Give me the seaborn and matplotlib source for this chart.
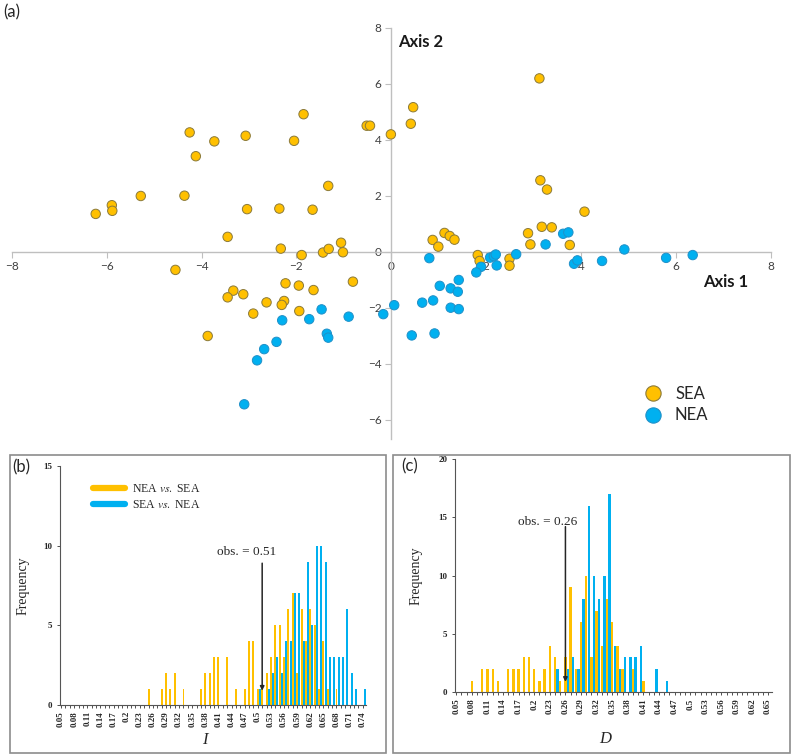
import numpy as np
import pandas as pd
import matplotlib
matplotlib.use("Agg")
import matplotlib.pyplot as plt
import seaborn as sns
from matplotlib.lines import Line2D
from matplotlib.patches import Rectangle

# (a) ordination scores
sea_x = [-4.25, -3.73, -3.07, -4.12, -5.28, -4.36, -5.89, -5.88, -6.23, -3.04,
         -3.45, -4.55, -3.33, -3.45, -3.12, -2.91, -1.85, -2.05, -0.52, -0.45,
         -0.01, 0.41, 0.46, -1.33, -2.36, -1.66, -2.33, -1.89, -1.44, -1.32,
         -1.06, -1.02, -0.81, -2.23, -1.95, -1.64, -2.63, -2.26, -2.31, -1.94,
         3.12, 3.14, 3.28, 4.07, 0.87, 0.99, 1.12, 1.23, 1.33, 2.88,
         3.17, 3.38, 2.93, 3.76, 1.82, 1.86, 2.49, 2.49, -3.87]
sea_y = [4.26, 3.94, 4.14, 3.41, 1.99, 2.00, 1.66, 1.46, 1.35, 1.52,
         0.53, -0.65, -1.39, -1.63, -1.52, -2.21, 4.91, 3.96, 4.50, 4.50,
         4.19, 4.57, 5.16, 2.35, 1.54, 1.50, 0.11, -0.12, -0.03, 0.10,
         0.32, -0.02, -1.07, -1.13, -1.21, -1.37, -1.81, -1.76, -1.90, -2.12,
         6.19, 2.55, 2.22, 1.43, 0.42, 0.18, 0.67, 0.56, 0.43, 0.66,
         0.89, 0.87, 0.26, 0.24, -0.12, -0.33, -0.25, -0.50, -3.01]
nea_x = [-1.47, -1.73, -0.90, -0.17, 0.06, 0.80, 1.89, 2.08, 2.16, 2.20,
         2.22, 2.63, 1.79, 3.25, 3.62, 3.73, 3.85, 3.92, 1.42, 1.02,
         1.25, 1.40, 0.65, 0.88, 1.25, 1.42, 0.43, 0.91, 4.44, 4.91,
         5.79, 6.35, -3.10, -2.83, -2.68, -2.42, -2.30, -1.36, -1.33]
nea_y = [-2.06, -2.41, -2.32, -2.23, -1.91, -0.23, -0.54, -0.21, -0.16, -0.10,
         -0.49, -0.09, -0.74, 0.26, 0.64, 0.69, -0.43, -0.31, -1.01, -1.22,
         -1.31, -1.43, -1.82, -1.74, -2.00, -2.05, -2.99, -2.92, -0.33, 0.08,
         -0.22, -0.12, -5.45, -3.88, -3.48, -3.22, -2.45, -2.93, -3.07]

# (b) niche identity I, (c) Schoener's D : null distributions
b_bins = [str(round(0.05 + 0.01 * i, 2)) for i in range(70)]
b_nea_sea = [0, 0, 0, 0, 0, 0, 0, 0, 0, 0,
             0, 0, 0, 0, 0, 0, 0, 0, 0, 0,
             1, 0, 0, 1, 2, 1, 2, 0, 1, 0,
             0, 0, 1, 2, 2, 3, 3, 0, 3, 0,
             1, 0, 1, 4, 4, 1, 1, 2, 3, 5,
             5, 3, 6, 7, 2, 6, 4, 6, 5, 1,
             4, 1, 0, 1, 0, 0, 0, 0, 0, 0]
b_sea_nea = [0, 0, 0, 0, 0, 0, 0, 0, 0, 0,
             0, 0, 0, 0, 0, 0, 0, 0, 0, 0,
             0, 0, 0, 0, 0, 0, 0, 0, 0, 0,
             0, 0, 0, 0, 0, 0, 0, 0, 0, 0,
             0, 0, 0, 0, 0, 1, 0, 1, 2, 3,
             2, 4, 4, 7, 7, 4, 9, 5, 10, 10,
             9, 3, 3, 3, 3, 6, 2, 1, 0, 1]
b_obs = "0.51"

c_bins = [str(round(0.05 + 0.01 * i, 2)) for i in range(61)]
c_nea_sea = [0, 0, 0, 1, 0, 2, 2, 2, 1, 0,
             2, 2, 2, 3, 3, 2, 1, 2, 4, 3,
             1, 3, 9, 2, 6, 10, 3, 7, 4, 8,
             6, 4, 2, 0, 2, 0, 1, 0, 0, 0,
             0, 0, 0, 0, 0, 0, 0, 0, 0, 0,
             0, 0, 0, 0, 0, 0, 0, 0, 0, 0,
             0]
c_sea_nea = [0, 0, 0, 0, 0, 0, 0, 0, 0, 0,
             0, 0, 0, 0, 0, 0, 0, 0, 0, 2,
             0, 2, 3, 2, 8, 16, 10, 8, 10, 17,
             4, 2, 3, 3, 3, 4, 0, 0, 2, 0,
             1, 0, 0, 0, 0, 0, 0, 0, 0, 0,
             0, 0, 0, 0, 0, 0, 0, 0, 0, 0,
             0]
c_obs = "0.26"

YEL = "#FFC000"
BLU = "#00B0F0"
W, H = 794, 755

sns.set_theme(style="white")
plt.rcParams["mathtext.fontset"] = "stix"

fig = plt.figure(figsize=(W / 100, H / 100), dpi=100)


def fx(px):
    return px / W


def fy(py):
    return 1 - py / H


# ---------------- (a) scatter ----------------
pts = pd.DataFrame({
    "Axis 1": sea_x + nea_x,
    "Axis 2": sea_y + nea_y,
    "group": ["SEA"] * len(sea_x) + ["NEA"] * len(nea_x),
})
edges = ["#8B7A3A"] * len(sea_x) + ["#2090C8"] * len(nea_x)

ax = fig.add_axes([fx(11.7), fy(439.3), fx(771) - fx(11.7), fy(27.7) - fy(439.3)])
sns.scatterplot(data=pts, x="Axis 1", y="Axis 2", hue="group",
                palette={"SEA": YEL, "NEA": BLU}, s=46, edgecolor=edges,
                linewidth=0.7, legend=False, ax=ax, zorder=3)
ax.set_xlim(-8, 8)
ax.set_ylim(-6.7, 8)
ax.set_facecolor("none")
for s in ["top", "right"]:
    ax.spines[s].set_visible(False)
ax.spines["left"].set_position(("data", 0))
ax.spines["bottom"].set_position(("data", 0))
for s in ["left", "bottom"]:
    ax.spines[s].set_color("#BFBFBF")
    ax.spines[s].set_linewidth(1.0)
ax.set_xticks(np.arange(-8, 9, 2))
ax.set_yticks(np.arange(-6, 9, 2))
ax.tick_params(axis="both", direction="out", length=4, width=0.8, color="#BFBFBF",
               labelcolor="#404040", labelsize=8.5, pad=3, bottom=True, left=True)
for t in ax.get_xticklabels() + ax.get_yticklabels():
    t.set_fontfamily("Lato")
ax.set_xlabel("")
ax.set_ylabel("")

fig.text(fx(398), fy(42), "Axis 2", fontsize=12, fontweight="bold",
         family="Lato", ha="left", va="center", color="#1a1a1a")
fig.text(fx(703), fy(282), "Axis 1", fontsize=12, fontweight="bold",
         family="Lato", ha="left", va="center", color="#1a1a1a")
fig.text(fx(3), fy(12), "(a)", fontsize=12, family="Lato", ha="left", va="center")

leg_h = [Line2D([], [], marker="o", ls="", markersize=11, markerfacecolor=YEL,
                markeredgecolor="#8B7A3A", markeredgewidth=0.8),
         Line2D([], [], marker="o", ls="", markersize=11, markerfacecolor=BLU,
                markeredgecolor="#2090C8", markeredgewidth=0.8)]
fig.legend(leg_h, ["SEA", "NEA"], loc="upper left", bbox_to_anchor=(fx(630), fy(379)),
           frameon=False, prop={"family": "Lato", "size": 12},
           handletextpad=0.3, labelspacing=0.35, borderaxespad=0)


# ---------------- (b), (c) histograms ----------------
def hist_panel(rect, bins, a, b, ymax, xlab, obs, text_xy, arrow_top, xlab_xy, ylab_x):
    df = pd.DataFrame({
        "bin": bins * 2,
        "count": a + b,
        "series": ["NEA vs. SEA"] * len(bins) + ["SEA vs. NEA"] * len(bins),
    })
    hx = fig.add_axes(rect)
    sns.barplot(data=df, x="bin", y="count", hue="series", order=bins,
                hue_order=["NEA vs. SEA", "SEA vs. NEA"], palette=[YEL, BLU],
                width=1.0, gap=0.1, saturation=1, linewidth=0, errorbar=None,
                legend=False, antialiased=False, ax=hx)
    n = len(bins)
    hx.set_xlim(-0.5, n - 0.5)
    hx.set_ylim(0, ymax)
    hx.set_xticks(np.arange(n) - 0.25)
    hx.set_xticklabels([lb if i % 3 == 0 else "" for i, lb in enumerate(bins)],
                       rotation=90, fontsize=6.5, fontweight="bold",
                       family="Liberation Serif")
    hx.set_yticks(np.arange(0, ymax + 1, 5))
    hx.set_yticklabels([str(v) for v in np.arange(0, ymax + 1, 5)], fontsize=6.5,
                       fontweight="bold", family="Liberation Serif")
    hx.tick_params(axis="x", direction="out", length=2.5, width=0.6, color="#333333",
                   pad=2, bottom=True)
    hx.tick_params(axis="y", direction="out", length=2.5, width=0.6, color="#333333",
                   pad=3, left=True)
    for s in ["top", "right"]:
        hx.spines[s].set_visible(False)
    for s in ["left", "bottom"]:
        hx.spines[s].set_color("#555555")
        hx.spines[s].set_linewidth(0.8)
    hx.set_facecolor("none")
    hx.set_ylabel("Frequency", fontsize=10, family="Liberation Serif")
    hx.yaxis.set_label_coords(ylab_x, 0.5)
    hx.set_xlabel(xlab, fontsize=12, family="Liberation Serif", style="italic")
    hx.xaxis.set_label_coords(xlab_xy[0], xlab_xy[1])
    oi = bins.index(obs) - 0.25
    hx.annotate("", xy=(oi, 0.9), xytext=(oi, arrow_top),
                arrowprops=dict(arrowstyle="-|>", color="#262626", lw=1.1,
                                mutation_scale=6, shrinkA=0, shrinkB=0))
    hx.text(text_xy[0], text_xy[1], "obs. = " + obs, fontsize=9.5,
            family="Liberation Serif", ha="center", va="center")
    return hx


bx = hist_panel([fx(60), fy(705), fx(366) - fx(60), fy(466) - fy(705)],
                b_bins, b_nea_sea, b_sea_nea, 15, "I", b_obs,
                (42.3, 9.6), 8.9, (0.474, -0.115), -0.098)
bx.legend([Line2D([], [], color=YEL, lw=4.5), Line2D([], [], color=BLU, lw=4.5)],
          [r"NEA $\mathit{vs.}$ SEA", r"SEA $\mathit{vs.}$ NEA"],
          loc="upper left", bbox_to_anchor=(fx(88), fy(478)),
          bbox_transform=fig.transFigure, frameon=False,
          prop={"family": "Liberation Serif", "size": 8.5},
          handlelength=2.7, handletextpad=0.6, labelspacing=0.4, borderaxespad=0)

cx = hist_panel([fx(455), fy(692.3), fx(772) - fx(455), fy(459) - fy(692.3)],
                c_bins, c_nea_sea, c_sea_nea, 20, "D", c_obs,
                (17.4, 14.6), 14.2, (0.473, -0.165), -0.101)

# panel frames and letters
for x0, x1 in [(10, 386), (393, 790)]:
    fig.add_artist(Rectangle((fx(x0), fy(753)), fx(x1) - fx(x0), fy(455) - fy(753),
                             transform=fig.transFigure, fill=False,
                             edgecolor="#8C8C8C", lw=1.2))
fig.text(fx(12), fy(467), "(b)", fontsize=12, family="Lato", ha="left", va="center")
fig.text(fx(401), fy(466), "(c)", fontsize=12, family="Lato", ha="left", va="center")

fig.savefig("out.png", dpi=100)
